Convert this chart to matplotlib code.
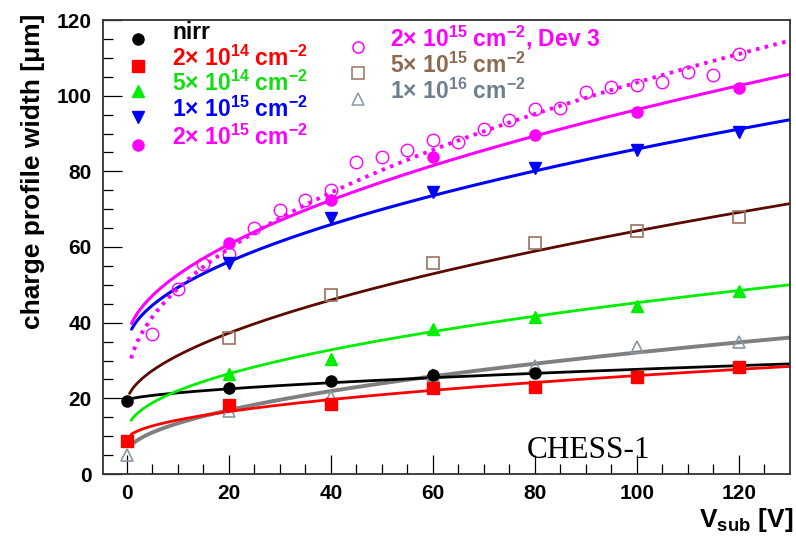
import numpy as np
import matplotlib
matplotlib.use("Agg")
import matplotlib.pyplot as plt

plt.rcParams['font.family'] = ['Liberation Sans', 'DejaVu Sans']
plt.rcParams['font.weight'] = 'bold'
plt.rcParams['mathtext.default'] = 'regular'

# measured points, V_sub [V] -> charge profile width [um]
v_all = [0, 20, 40, 60, 80, 100, 120]
v_irr = [20, 40, 60, 80, 100, 120]
v_nirr = [0, 20, 40, 60, 80]
w_nirr = [19.3, 22.8, 24.6, 26.2, 26.7]
w_2e14 = [8.6, 18.2, 18.5, 22.7, 23.1, 25.7, 28.3]
w_5e14 = [26.5, 30.3, 38.2, 41.6, 44.3, 48.3]
w_1e15 = [55.8, 67.6, 74.6, 80.9, 85.6, 90.5]
w_2e15 = [61.0, 72.4, 83.9, 89.6, 95.8, 102.0]
w_5e15 = [35.9, 47.4, 55.9, 61.1, 64.1, 67.9]
w_1e16 = [5.0, 16.7, 20.3, 26.2, 28.6, 33.7, 35.0]
v_dev3 = [5, 10, 15, 20, 25, 30, 35, 40, 45, 50, 55, 60,
          65, 70, 75, 80, 85, 90, 95, 100, 105, 110, 115, 120]
w_dev3 = [37.0, 48.9, 55.5, 58.1, 65.0, 69.8, 72.4, 75.0, 82.4, 83.8, 85.6, 88.3,
          87.8, 91.2, 93.6, 96.5, 96.8, 101.0, 102.3, 102.8, 103.7, 106.3, 105.5, 110.9]

# fit curves w = c + a * V^p: (c, a, p, V start)
fit_nirr = (19.5, 0.47, 0.62, 0.0)
fit_2e14 = (9.0, 1.64, 0.508, 0.8)
fit_5e14 = (11.0, 3.54, 0.493, 0.8)
fit_1e15 = (34.0, 4.52, 0.53, 0.9)
fit_2e15 = (35.0, 5.1, 0.54, 0.9)
fit_dev3 = (23.0, 8.43, 0.49, 0.8)
fit_5e15 = (19.0, 3.37, 0.564, 0.5)
fit_1e16 = (5.5, 2.35, 0.527, 0.8)

W, H = 796, 536
fig = plt.figure(figsize=(W / 100, H / 100), dpi=100)
ax = fig.add_axes([103 / W, 62 / H, 687 / W, 454 / H])


def fx(px):
    return px / W


def fy(py):
    return 1 - py / H


def fit_curve(pars, color, **kw):
    c, a, p, v0 = pars
    v = np.linspace(v0, 130, 300)
    ax.plot(v, c + a * v ** p, color=color, solid_capstyle='round', zorder=2, **kw)


GREEN = '#00ee00'
BROWN_L = '#5a0a00'
BROWN_M = '#9a7260'
GRAY_L = '#7f7f7f'
GRAY_M = '#8a96a4'

fit_curve(fit_1e16, GRAY_L, lw=2.8)
fit_curve(fit_nirr, 'black', lw=2.0)
fit_curve(fit_2e14, 'red', lw=2.0)
fit_curve(fit_5e14, GREEN, lw=2.0)
fit_curve(fit_5e15, BROWN_L, lw=2.0)
fit_curve(fit_1e15, 'blue', lw=2.2)
fit_curve(fit_2e15, 'magenta', lw=2.2)
fit_curve(fit_dev3, 'magenta', lw=2.8, ls=(0, (0.9, 1.4)))

ax.plot(v_dev3, w_dev3, 'o', ms=9, mfc='none', mec='magenta', mew=1.0, zorder=3)
ax.plot(v_irr, w_5e15, 's', ms=9, mfc='none', mec=BROWN_M, mew=1.2, zorder=3)
ax.plot(v_all, w_1e16, '^', ms=9, mfc='none', mec=GRAY_M, mew=1.2, zorder=3)
ax.plot(v_nirr, w_nirr, 'o', ms=8, color='black', zorder=4)
ax.plot(v_all, w_2e14, 's', ms=8, color='red', zorder=4)
ax.plot(v_irr, w_5e14, '^', ms=8, color=GREEN, zorder=4)
ax.plot(v_irr, w_1e15, 'v', ms=8, color='blue', zorder=4)
ax.plot(v_irr, w_2e15, 'o', ms=8, color='magenta', zorder=4)

ax.set_xlim(-4.7, 130)
ax.set_ylim(0, 120)
ax.set_xticks(np.arange(0, 121, 20))
ax.set_xticks(np.arange(0, 130, 5), minor=True)
ax.set_yticks(np.arange(0, 121, 20))
ax.set_yticks(np.arange(0, 121, 5), minor=True)
ax.tick_params(which='both', direction='in', top=False, right=False, width=0.9)
ax.tick_params(which='major', length=13.5, labelsize=15)
ax.tick_params(axis='x', which='major', pad=7)
ax.tick_params(axis='y', which='major', pad=8)
ax.tick_params(which='minor', length=7)
for s in ax.spines.values():
    s.set_linewidth(1.3)
    s.set_color('#333333')
for lab in ax.get_xticklabels() + ax.get_yticklabels():
    lab.set_fontweight('bold')

fig.text(fx(793), fy(527), r'V$_{sub}$ [V]', ha='right', va='baseline', fontsize=19, fontweight='bold')
fig.text(fx(33), fy(14), 'charge profile width [μm]', rotation=90, ha='center', va='top',
         fontsize=19, fontweight='bold')
ax.text(fx(588), fy(450), 'CHESS-1', transform=fig.transFigure, ha='center', va='center',
        fontsize=22.5, family='Liberation Serif', fontweight='normal')

# legend, left column
left_rows = [
    ('o', 'black', 'black', 'nirr', 'black'),
    ('s', 'red', 'red', r'2$\times$ 10$^{14}$ cm$^{-2}$', 'red'),
    ('^', GREEN, GREEN, r'5$\times$ 10$^{14}$ cm$^{-2}$', '#11dd11'),
    ('v', 'blue', 'blue', r'1$\times$ 10$^{15}$ cm$^{-2}$', 'blue'),
    ('o', 'magenta', 'magenta', r'2$\times$ 10$^{15}$ cm$^{-2}$', 'magenta'),
]
left_y = [39, 65.5, 91, 117, 145]
for (m, fc, ec, txt, tc), py in zip(left_rows, left_y):
    ax.plot([fx(138)], [fy(py)], m, ms=8, mfc=fc, mec=ec, transform=fig.transFigure, clip_on=False)
    ax.text(fx(172), fy(py), txt, transform=fig.transFigure, ha='left', va='baseline',
            fontsize=16.5, fontweight='bold', color=tc)

right_rows = [
    ('o', 'magenta', r'2$\times$ 10$^{15}$ cm$^{-2}$, Dev 3', 'magenta'),
    ('s', BROWN_M, r'5$\times$ 10$^{15}$ cm$^{-2}$', '#8c6a50'),
    ('^', GRAY_M, r'1$\times$ 10$^{16}$ cm$^{-2}$', '#6f7f8f'),
]
right_y = [46.5, 72.5, 99]
for (m, ec, txt, tc), py in zip(right_rows, right_y):
    ax.plot([fx(358)], [fy(py)], m, ms=8, mfc='none', mec=ec, mew=1.1,
            transform=fig.transFigure, clip_on=False)
    ax.text(fx(390), fy(py), txt, transform=fig.transFigure, ha='left', va='baseline',
            fontsize=16.5, fontweight='bold', color=tc)

fig.savefig('out.png', dpi=100)
